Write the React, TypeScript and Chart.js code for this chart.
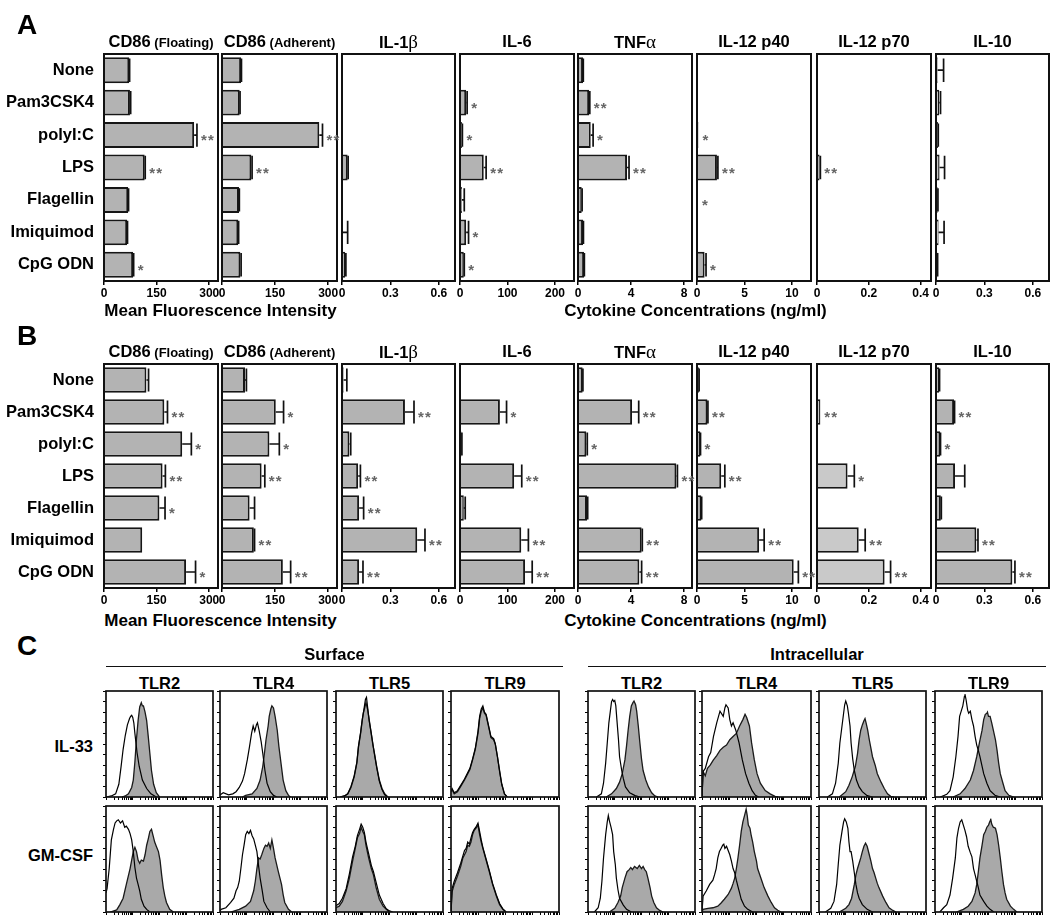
import React, { useEffect, useRef } from 'react';
import { Chart, registerables } from 'chart.js';

Chart.register(...registerables);

const FONT = "'Liberation Sans', Arial, Helvetica, sans-serif";
const SERIF = "'Liberation Serif', 'DejaVu Serif', serif";

// ---------------- Panel A / B data ----------------
const CATEGORIES = ['None', 'Pam3CSK4', 'polyI:C', 'LPS', 'Flagellin', 'Imiquimod', 'CpG ODN'];
const PANEL_TITLES = ['CD86 (Floating)', 'CD86 (Adherent)', 'IL-1β', 'IL-6', 'TNFα', 'IL-12 p40', 'IL-12 p70', 'IL-10'];
const AXIS_TITLES = ['Mean Fluorescence Intensity', 'Cytokine Concentrations (ng/ml)'];

const TICKS_CD86 = [0, 150, 300];
const TICKS_IL1B = [0, 0.3, 0.6];
const TICKS_IL6 = [0, 100, 200];
const TICKS_TNF = [0, 4, 8];
const TICKS_P40 = [0, 5, 10];
const TICKS_P70 = [0, 0.2, 0.4];
const TICKS_IL10 = [0, 0.3, 0.6];
const AXIS_MAX = [325, 325, 0.7, 240, 8.6, 12, 0.44, 0.7];

// Panel A (IL-33 cultured)
const A_CD86F = [72, 74, 257, 116, 69, 66, 83];
const A_CD86F_ERR = [1, 2, 8, 1.5, 1, 1, 1.5];
const A_CD86F_SIG = ['', '', '**', '**', '', '', '*'];
const A_CD86A = [54, 50, 275, 83, 48, 46, 52];
const A_CD86A_ERR = [1, 1, 9, 2, 1, 1, 2];
const A_CD86A_SIG = ['', '', '**', '**', '', '', ''];
const A_IL1B = [0, 0, 0, 0.035, 0, 0.005, 0.02];
const A_IL1B_ERR = [0, 0, 0, 0.003, 0, 0.03, 0.004];
const A_IL1B_SIG = ['', '', '', '', '', '', ''];
const A_IL6 = [0, 13, 4, 50, 4, 13, 8];
const A_IL6_ERR = [0, 2, 1, 5, 5, 5, 1];
const A_IL6_SIG = ['', '*', '*', '**', '', '*', '*'];
const A_TNF = [0.38, 0.84, 0.96, 3.7, 0.28, 0.38, 0.46];
const A_TNF_ERR = [0.02, 0.05, 0.18, 0.15, 0.03, 0.03, 0.02];
const A_TNF_SIG = ['', '**', '*', '**', '', '', ''];
const A_P40 = [0, 0, 0.15, 2.1, 0.1, 0, 0.8];
const A_P40_ERR = [0, 0, 0, 0.1, 0, 0, 0.15];
const A_P40_SIG = ['', '', '*', '**', '*', '', '*'];
const A_P70 = [0, 0, 0, 0.01, 0, 0, 0];
const A_P70_ERR = [0, 0, 0, 0.003, 0, 0, 0];
const A_P70_SIG = ['', '', '', '**', '', '', ''];
const A_IL10 = [0.01, 0.02, 0.012, 0.022, 0.01, 0.016, 0.008];
const A_IL10_ERR = [0.037, 0.008, 0.002, 0.031, 0.002, 0.034, 0.002];
const A_IL10_SIG = ['', '', '', '', '', '', ''];

// Panel B (GM-CSF cultured)
const B_CD86F = [121, 172, 223, 167, 158, 109, 234];
const B_CD86F_ERR = [6, 9, 26, 8, 16, 0, 27];
const B_CD86F_SIG = ['', '**', '*', '**', '*', '', '*'];
const B_CD86A = [65, 152, 134, 112, 78, 90, 172];
const B_CD86A_ERR = [4, 22, 28, 9, 14, 2, 22];
const B_CD86A_SIG = ['', '*', '*', '**', '', '**', '**'];
const B_IL1B = [0.01, 0.39, 0.046, 0.1, 0.106, 0.466, 0.106];
const B_IL1B_ERR = [0.02, 0.056, 0.008, 0.014, 0.028, 0.048, 0.024];
const B_IL1B_SIG = ['', '**', '', '**', '**', '**', '**'];
const B_IL6 = [0, 84, 3, 114, 8, 129, 137];
const B_IL6_ERR = [0, 14, 1, 16, 3, 15, 15];
const B_IL6_SIG = ['', '*', '', '**', '', '**', '**'];
const B_TNF = [0.35, 4.08, 0.63, 7.42, 0.68, 4.8, 4.63];
const B_TNF_ERR = [0.02, 0.5, 0.07, 0.08, 0.05, 0.05, 0.17];
const B_TNF_SIG = ['', '**', '*', '**', '', '**', '**'];
const B_P40 = [0.2, 1.1, 0.35, 2.55, 0.46, 6.54, 10.18];
const B_P40_ERR = [0.02, 0.05, 0.02, 0.38, 0.03, 0.53, 0.49];
const B_P40_SIG = ['', '**', '*', '**', '', '**', '**'];
const B_P70 = [0, 0.013, 0, 0.118, 0, 0.161, 0.261];
const B_P70_ERR = [0, 0, 0, 0.026, 0, 0.025, 0.023];
const B_P70_SIG = ['', '**', '', '*', '', '**', '**'];
const B_IL10 = [0.02, 0.112, 0.026, 0.118, 0.03, 0.25, 0.473];
const B_IL10_ERR = [0.002, 0.003, 0.002, 0.06, 0.003, 0.01, 0.016];
const B_IL10_SIG = ['', '**', '*', '', '', '**', '**'];

// ---------------- Panel C data (histograms, % of channel range / % of max count) ----------------
const HIST_GROUPS = ['Surface', 'Intracellular'];
const HIST_MARKERS = ['TLR2', 'TLR4', 'TLR5', 'TLR9'];
const HIST_ROWS = ['IL-33', 'GM-CSF'];
const HIST_Y_TICKS = [0, 10, 20, 30, 40, 50, 60, 70, 80, 90, 100];

// Surface, IL-33
const S2_IL33_ISO_X = [0, 5, 9, 12, 14, 16, 18, 20, 22, 23, 24, 25, 26, 27, 29, 31, 34, 38, 42, 47];
const S2_IL33_ISO_Y = [0, 1, 3, 12, 28, 45, 58, 68, 74, 76, 77, 75, 70, 60, 42, 29, 16, 8, 3, 0];
const S2_IL33_ST_X = [15, 18, 21, 24, 25.5, 27, 28.5, 30, 31.5, 33, 34, 35, 36.5, 38, 39.5, 41, 42.5, 44.5, 47, 50];
const S2_IL33_ST_Y = [0, 1, 3, 9, 16, 33, 55, 72, 85, 89, 86, 86, 80, 72, 57, 41, 25, 12, 4, 0];
const S4_IL33_ISO_X = [0, 3, 8, 12, 15, 18, 21, 23, 25.5, 27.5, 29.5, 31, 32.5, 34, 35, 36.5, 38.5, 40, 42, 44, 47, 50, 53];
const S4_IL33_ISO_Y = [2, 4, 2, 3, 5, 9, 15, 22, 35, 47, 60, 67, 62, 68, 70, 63, 52, 41, 25, 13, 5, 1.5, 0];
const S4_IL33_ST_X = [21, 24, 30, 34.5, 37.5, 40, 41.5, 43, 45, 46, 47.5, 48.5, 50, 51.5, 53.5, 55, 57, 59, 61.5, 64, 66];
const S4_IL33_ST_Y = [0, 1.5, 3, 8, 16, 29, 41, 54, 67, 76, 83, 86, 84, 76, 63, 48, 32, 16, 6, 1.5, 0];
const S5_IL33_ISO_X = [4, 8, 11, 14, 17, 19.5, 21, 23, 24.5, 26, 27.5, 28.5, 29.5, 31, 33, 34.5, 36, 38, 40.5, 43, 45.5, 48.5];
const S5_IL33_ISO_Y = [0, 1, 3, 10, 20, 33, 48, 61, 73, 82, 92, 94, 85, 72, 60, 50, 40, 28, 15, 7, 2, 0];
const S5_IL33_ST_X = [4, 8, 11, 14, 17, 19.5, 21, 23, 24.5, 25.5, 27, 28, 29.5, 31, 33, 34.5, 36, 38, 40.5, 43, 45.5, 48.5];
const S5_IL33_ST_Y = [0, 1, 3, 9, 19, 32, 47, 60, 72, 79, 85, 89, 83, 73, 59, 49, 41, 29, 16, 8, 3, 0];
const S9_IL33_ISO_X = [0, 1, 3, 6, 9, 12.5, 15.5, 17.5, 20, 22.5, 25, 26.5, 28, 29.5, 31, 32.5, 34, 35.5, 37, 39.5, 41, 43, 45, 47, 49.5, 52];
const S9_IL33_ISO_Y = [6, 8, 4, 6, 11, 17, 23, 27, 36, 46, 62, 76, 83, 86, 80, 78, 71, 64, 57, 55, 50, 38, 24, 12, 3, 0];
const S9_IL33_ST_X = [0, 1, 3, 6, 9, 12.5, 15.5, 17.5, 20, 22.5, 25, 26.5, 28, 29.5, 31, 32.5, 34, 35.5, 37, 39.5, 41, 43, 45, 47, 49.5, 52];
const S9_IL33_ST_Y = [5, 7, 3, 5, 10, 16, 22, 26, 35, 45, 60, 74, 81, 84, 79, 77, 70, 63, 56, 54, 50, 38, 25, 12, 3, 0];

// Surface, GM-CSF
const S2_GM_ISO_X = [0, 1, 3, 5, 7, 8.5, 10, 11.5, 13.5, 15.5, 17.5, 19, 21, 22.5, 24, 25.5, 27, 28.5, 30, 31.5, 33, 35.5, 38, 41];
const S2_GM_ISO_Y = [18, 22, 41, 68, 78, 84, 86, 87, 84, 86, 80, 81, 78, 74, 68, 57, 42, 32, 26, 20, 12, 5.5, 2.5, 0];
const S2_GM_ST_X = [4, 10, 13, 16, 19, 22.5, 24, 25.5, 27, 28.5, 30, 31.5, 33, 35, 36.5, 38, 39.5, 41, 42.5, 44, 45.5, 47, 49, 50.5, 52, 53.5, 55, 56.5, 59.5, 63];
const S2_GM_ST_Y = [0, 2, 7, 13, 26, 41, 49, 57, 61, 57, 49, 46, 49, 48, 54, 63, 69, 76, 78, 72, 66, 62, 57, 49, 35, 23, 15, 9, 2.5, 0];
const S4_GM_ISO_X = [0, 1, 5.5, 10, 13, 15, 16.5, 18, 19.5, 21, 22.5, 24, 25.5, 27, 28.5, 30, 31.5, 33, 34.5, 36, 37.5, 39.5, 41, 44, 47];
const S4_GM_ISO_Y = [1, 2.5, 4, 9, 13, 20, 23, 29, 41, 54, 63, 73, 76, 74, 77, 72, 69, 63, 57, 44, 32, 20, 10, 4, 0];
const S4_GM_ST_X = [10, 18, 24, 28.5, 31.5, 33, 34.5, 36, 37.5, 39, 41, 42.5, 44, 45.5, 47, 48.5, 50, 51.5, 54.5, 57.5, 59, 60.5, 64, 67];
const S4_GM_ST_Y = [0, 2.5, 5.5, 10, 20, 29, 41, 51, 50, 54, 60, 63, 62, 65, 60, 68, 60, 51, 38, 26, 16.5, 9, 2.5, 0];
const S5_GM_ISO_X = [0, 3, 6, 9.5, 12.5, 15.5, 18, 20, 22, 23.5, 25, 26.5, 28, 30.5, 33, 35, 37.5, 40.5, 44, 47, 50, 53];
const S5_GM_ISO_Y = [6, 8, 13, 22, 36, 52, 62, 72, 78, 83, 80, 75, 66, 55, 44, 38, 28, 16, 8, 3, 1, 0];
const S5_GM_ST_X = [0, 3, 6, 9.5, 12.5, 15.5, 18, 20, 22, 23.5, 25, 26.5, 28, 30.5, 33, 35, 37.5, 40.5, 44, 47, 50];
const S5_GM_ST_Y = [4, 5.5, 10, 20, 32, 48, 60, 70, 74, 80, 76, 73, 63, 51, 41, 35, 23, 12, 5.5, 2.5, 0];
const S9_GM_ISO_X = [0, 1, 3, 6, 9, 11, 12.5, 14, 15.5, 17, 18.5, 20, 21.5, 23, 25, 26.5, 28, 29.5, 32.5, 35.5, 38.5, 42, 45, 48, 51];
const S9_GM_ISO_Y = [0, 22, 29, 37, 46, 53, 58, 60, 66, 64, 70, 75, 78, 80, 84, 76, 68, 61, 50, 39, 27, 16, 8, 3, 0];
const S9_GM_ST_X = [0, 1, 3, 6, 9, 11, 12.5, 14, 15.5, 17, 18.5, 20, 21.5, 23, 25, 26.5, 28, 29.5, 32.5, 35.5, 38.5, 42, 45, 48, 51];
const S9_GM_ST_Y = [0, 19, 26, 34, 43, 51, 54, 57, 63, 62, 66, 73, 77, 79, 82, 73, 66, 60, 49, 38, 26, 15, 7, 2.5, 0];

// Intracellular, IL-33
const I2_IL33_ISO_X = [8, 12.5, 14.5, 16.5, 18, 19.5, 21, 22, 23, 24, 25, 26, 27, 28.5, 29.5, 31.5, 33, 35, 39, 44, 48.5];
const I2_IL33_ISO_Y = [0, 3, 13, 32, 51, 70, 82, 90, 92, 90, 91, 86, 73, 54, 38, 25, 17.5, 9.5, 4, 1.3, 0];
const I2_IL33_ST_X = [17, 22, 26.5, 29.5, 32, 34.5, 36, 37.5, 39, 40.5, 42, 43, 44.5, 45.5, 47, 48.5, 50, 51.5, 54, 56.5, 59.5, 62.5, 65.5];
const I2_IL33_ST_Y = [0, 3, 8, 14, 22, 35, 48, 63, 76, 86, 89, 90.5, 87, 81, 67, 51, 36, 25, 16, 9.5, 4, 1, 0];
const I4_IL33_ISO_X = [0, 1, 3, 6, 8, 10.5, 13.5, 16.5, 19.5, 21, 22, 24, 25.5, 27, 28.5, 31, 34, 37, 40, 43, 46, 49, 52];
const I4_IL33_ISO_Y = [0, 24, 27, 38, 42, 57, 70, 81, 76, 84, 87, 84, 73, 67, 70, 63, 51, 35, 22, 13, 6, 1.6, 0];
const I4_IL33_ST_X = [0, 1, 3, 5, 7.5, 10.5, 13.5, 16.5, 19.5, 22.5, 25.5, 28.5, 31.5, 34.5, 37.5, 39.5, 41, 43.5, 45.5, 48, 50.5, 53.5, 58, 62.5, 67, 70];
const I4_IL33_ST_Y = [0, 24, 20, 27, 30, 35, 39, 44, 47, 49, 54, 57, 60, 67, 73, 78, 75, 67, 51, 35, 22, 13, 6, 3, 0.6, 0];
const I5_IL33_ISO_X = [8, 12.5, 15.5, 18, 19.5, 21.5, 23, 24, 25, 26.5, 27.5, 29, 30, 31.5, 33, 35, 37.5, 40.5, 45, 50];
const I5_IL33_ISO_Y = [0, 3, 13, 32, 51, 67, 79, 87, 90.5, 86, 79, 67, 51, 36, 25, 16, 9.5, 5, 1.3, 0];
const I5_IL33_ST_X = [19, 25, 28, 31, 34, 36, 37.5, 39, 40.5, 42, 43, 44, 45.5, 47, 48.5, 50, 52.5, 54.5, 58, 61, 64, 67, 70];
const I5_IL33_ST_Y = [0, 5, 11, 19, 29, 41, 54, 63, 68, 72, 74, 70, 63, 54, 46, 38, 30, 22, 14, 8, 3, 0.6, 0];
const I9_IL33_ISO_X = [5, 11, 14, 17, 19.5, 21.5, 23, 24.5, 26, 27.5, 28, 29, 30.5, 31.5, 33, 34.5, 36, 37.5, 39, 40.5, 42, 44, 45.5, 48.5, 51.5, 56, 61];
const I9_IL33_ISO_Y = [0, 2.5, 6, 19, 38, 57, 76, 81, 86, 95, 97, 92, 82, 79, 81, 73, 67, 57, 49, 44, 38, 29, 22, 13, 6, 1.6, 0];
const I9_IL33_ST_X = [17, 23.5, 28, 33, 36, 39, 41.5, 44, 45.5, 47, 48.5, 49, 50, 51.5, 53, 54.5, 56.5, 58, 59.5, 61, 63.5, 65.5, 69, 73.5];
const I9_IL33_ST_Y = [0, 3, 8, 16, 25, 38, 51, 63, 73, 78, 79, 80, 76, 76, 70, 63, 54, 44, 32, 22, 13, 6, 1.6, 0];

// Intracellular, GM-CSF
const I2_GM_ISO_X = [6, 9.5, 11.5, 13, 14.5, 16.5, 18, 19, 20, 21.5, 23, 24, 25.5, 26.5, 28, 29.5, 33, 36, 40.5];
const I2_GM_ISO_Y = [0, 4, 13, 29, 51, 73, 85, 91, 86, 80, 73, 57, 45, 32, 21, 13, 6.5, 2.5, 0];
const I2_GM_ST_X = [20, 25, 28, 30.5, 32, 34.5, 36.5, 38.5, 40, 41.5, 43.5, 46, 48, 50, 51.5, 53, 54.5, 56, 58, 59.5, 61.5, 64, 67, 70];
const I2_GM_ST_Y = [0, 3.5, 9, 15, 23, 32, 38, 40, 42, 40, 43, 41, 44, 41, 43, 40, 38, 32, 23, 15, 9, 4, 1.5, 0];
const I4_GM_ISO_X = [0, 1, 4, 7, 10, 11.5, 13, 14.5, 16, 17.5, 19, 20, 21, 22.5, 24, 25.5, 27, 28.5, 30, 31.5, 33, 34.5, 36, 39, 42, 46.5];
const I4_GM_ISO_Y = [0, 15, 20, 26, 30, 35, 41, 51, 57, 60, 63, 64, 60, 62, 58, 54, 48, 41, 37, 30, 24, 18, 12, 5.5, 2.5, 0];
const I4_GM_ST_X = [0, 1, 5.5, 10, 14.5, 17.5, 20.5, 24, 27, 28.5, 30, 31.5, 33, 34.5, 36, 37.5, 39, 40.5, 41.5, 42.5, 44, 45, 46.5, 48, 50, 51, 54, 57, 60.5, 63.5, 66.5, 69.5, 72.5];
const I4_GM_ST_Y = [0, 2.5, 3.5, 4, 5.5, 8.5, 12, 16.5, 22.5, 27, 32, 41, 51, 63, 76, 85, 91, 97, 91, 82, 79, 73, 66, 57, 48, 41, 32, 23, 15, 9, 4, 1.6, 0];
const I5_GM_ISO_X = [6, 11, 14, 16.5, 18, 19.5, 21.5, 23, 24, 25.5, 27, 28, 29, 30, 31.5, 33, 34.5, 36, 37.5, 40.5, 45, 50];
const I5_GM_ISO_Y = [0, 3.5, 10, 26, 45, 63, 76, 85, 88, 85, 79, 66, 57, 57, 48, 37, 26, 18, 13, 7, 2.5, 0];
const I5_GM_ST_X = [19, 25, 28, 30.5, 33, 34.5, 36, 37.5, 39, 40.5, 42, 43.5, 45, 47, 48.5, 50, 51.5, 53, 54.5, 56, 59.5, 62.5, 65.5, 69, 72];
const I5_GM_ST_Y = [0, 3.5, 7, 13, 26, 35, 41, 46, 51, 57, 62, 65, 62, 54, 48, 41, 37, 32, 27, 23, 15, 9, 4, 1.5, 0];
const I9_GM_ISO_X = [4.5, 8, 11, 14, 16.5, 19, 20.5, 22, 23.5, 25, 26.5, 28, 29.5, 31, 33, 34.5, 36, 37.5, 39, 40.5, 42, 45.5, 48.5, 51.5, 55];
const I9_GM_ISO_Y = [0, 4, 7, 16, 32, 51, 70, 79, 85, 87, 82, 77, 71, 62, 56, 52, 41, 35, 29, 23, 16, 10, 5.5, 2.5, 0];
const I9_GM_ST_X = [20, 26.5, 31, 34.5, 37.5, 39, 40.5, 42, 44, 45.5, 47, 48.5, 50, 51.5, 52, 53, 54.5, 56.5, 58, 59.5, 61, 62.5, 64, 65.5, 67, 70.5, 73.5, 76.5];
const I9_GM_ST_Y = [0, 2.5, 5.5, 10, 18, 26, 38, 51, 63, 73, 76, 80, 82, 86, 88, 83, 80, 79, 73, 63, 51, 38, 26, 18, 12, 5.5, 2.5, 0];

// ---------------- Layout (positions / sizes / styles) ----------------
const BAR_LEFT = [104, 222, 342, 460, 578, 697, 817, 936];
const BAR_RIGHT = [218, 337, 455, 574, 692, 811, 931, 1049];
const PANEL_TOP = [54, 364];
const PANEL_BOTTOM = [281, 588];
const TITLE_Y = [41, 351];
const AXTITLE_Y = [310, 620];
const LETTER_Y = [25, 336, 646];
const BAR_PAD_R = 26;
const BAR_PAD_T = 24;
const BAR_FILL = '#b3b3b3';
const BAR_FILL_LIGHT = '#c9c9c9';
const HIST_FILL = '#a9a9a9';
const HIST_LEFT = [[106, 220, 336, 451], [588, 702, 819, 935]];
const HIST_W = [[107, 107, 107, 108], [107, 109, 107, 107]];
const HIST_TOP = [691, 806];
const HIST_H = 106;

const LOG_TICKS: number[] = [];
for (let d = 0; d < 4; d++) for (let k = 1; k < 10; k++) LOG_TICKS.push(25 * (d + Math.log10(k)));
LOG_TICKS.push(100);

const framePlugin = {
  id: 'frame',
  afterDatasetsDraw(chart: any, _a: any, opts: any) {
    const { ctx, chartArea: a } = chart;
    ctx.save();
    ctx.strokeStyle = '#111';
    ctx.lineWidth = opts.lw || 2;
    ctx.strokeRect(a.left, a.top, a.right - a.left, a.bottom - a.top);
    ctx.restore();
  },
};

const errPlugin = {
  id: 'errs',
  afterDatasetsDraw(chart: any, _a: any, opts: any) {
    if (!opts || !opts.err) return;
    const meta = chart.getDatasetMeta(0);
    const xs = chart.scales.x;
    const ctx = chart.ctx;
    const vals = chart.data.datasets[0].data;
    ctx.save();
    meta.data.forEach((bar: any, i: number) => {
      const v = vals[i];
      const e = opts.err[i] || 0;
      const s = opts.sig[i] || '';
      const x0 = xs.getPixelForValue(v);
      const x1 = xs.getPixelForValue(v + e);
      const y = bar.y;
      const h = bar.height;
      if (e > 0) {
        ctx.strokeStyle = '#111';
        ctx.lineWidth = 1.7;
        ctx.beginPath();
        ctx.moveTo(x0, y);
        ctx.lineTo(x1, y);
        ctx.moveTo(x1, y - h * 0.45);
        ctx.lineTo(x1, y + h * 0.45);
        ctx.stroke();
      }
      if (s) {
        ctx.fillStyle = '#666';
        ctx.font = `bold 15px ${FONT}`;
        ctx.textAlign = 'left';
        ctx.textBaseline = 'alphabetic';
        for (let k = 0; k < s.length; k++) ctx.fillText('*', x1 + 4 + k * 7, y + 10);
      }
    });
    ctx.restore();
  },
};

function barConfig(values: number[], errs: number[], sigs: string[], ticks: number[], max: number, color: string, first: boolean, padLeft: number) {
  return {
    type: 'bar',
    data: {
      labels: CATEGORIES,
      datasets: [{
        data: values, backgroundColor: color, borderColor: '#161616', borderWidth: 2,
        borderSkipped: 'start', barPercentage: 0.8, categoryPercentage: 1,
      }],
    },
    options: {
      indexAxis: 'y', animation: false, responsive: false, events: [],
      layout: { padding: { left: padLeft, right: BAR_PAD_R, top: BAR_PAD_T, bottom: 0 } },
      plugins: { legend: { display: false }, tooltip: { enabled: false }, frame: { lw: 2 }, errs: { err: errs, sig: sigs } },
      scales: {
        x: {
          type: 'linear', min: 0, max,
          afterBuildTicks: (s: any) => { s.ticks = ticks.map((v) => ({ value: v })); },
          afterFit: (s: any) => { s.height = 20; },
          grid: { drawOnChartArea: false, drawTicks: true, tickLength: 4, color: '#000', lineWidth: 1.5 },
          border: { display: false },
          ticks: { color: '#000', font: { family: FONT, size: 12, weight: 'bold' }, padding: 1, maxRotation: 0, autoSkip: false, callback: (v: any) => String(v) },
        },
        y: {
          type: 'category', display: first,
          grid: { display: false, drawTicks: false },
          border: { display: false },
          afterFit: (s: any) => { if (first) s.width = BAR_LEFT[0]; },
          ticks: { color: '#000', font: { family: FONT, size: 16.5, weight: 'bold' }, padding: 10 },
        },
      },
    },
    plugins: [framePlugin, errPlugin],
  };
}

function histConfig(isoX: number[], isoY: number[], stX: number[], stY: number[]) {
  return {
    type: 'line',
    data: {
      datasets: [
        { data: isoX.map((x, i) => ({ x, y: isoY[i] })), borderColor: '#000', borderWidth: 1.2, pointRadius: 0, fill: false, tension: 0 },
        { data: stX.map((x, i) => ({ x, y: stY[i] })), borderColor: '#1a1a1a', borderWidth: 1.3, backgroundColor: HIST_FILL, fill: 'origin', pointRadius: 0, tension: 0 },
      ],
    },
    options: {
      animation: false, responsive: false, events: [],
      layout: { padding: { left: 5, right: 3, top: 3, bottom: 0 } },
      plugins: { legend: { display: false }, tooltip: { enabled: false }, frame: { lw: 1.7 } },
      scales: {
        x: {
          type: 'linear', min: 0, max: 100,
          afterBuildTicks: (s: any) => { s.ticks = LOG_TICKS.map((v) => ({ value: v })); },
          afterFit: (s: any) => { s.height = 5; },
          ticks: { display: false },
          grid: { drawOnChartArea: false, tickLength: 3, color: '#000', lineWidth: 1 },
          border: { display: false },
        },
        y: {
          type: 'linear', min: 0, max: 100,
          afterBuildTicks: (s: any) => { s.ticks = HIST_Y_TICKS.map((v) => ({ value: v })); },
          afterFit: (s: any) => { s.width = 3; },
          ticks: { display: false },
          grid: { drawOnChartArea: false, tickLength: 3, color: '#000', lineWidth: 1 },
          border: { display: false },
        },
      },
    },
    plugins: [framePlugin],
  };
}

type CBProps = { left: number; top: number; width: number; height: number; make: () => any };
function ChartBox({ left, top, width, height, make }: CBProps) {
  const ref = useRef<HTMLCanvasElement>(null);
  useEffect(() => {
    const chart = new Chart(ref.current as HTMLCanvasElement, make());
    return () => chart.destroy();
  }, []);
  return <canvas ref={ref} width={width} height={height} style={{ position: 'absolute', left, top, width, height }} />;
}

type TxtProps = { x: number; y: number; align?: 'left' | 'center' | 'right'; size?: number; children: any };
function Txt({ x, y, align = 'center', size = 16.5, children }: TxtProps) {
  const tx = align === 'center' ? '-50%' : align === 'right' ? '-100%' : '0';
  return (
    <div style={{
      position: 'absolute', left: x, top: y, transform: `translate(${tx}, -50%)`,
      fontFamily: FONT, fontWeight: 700, fontSize: size, lineHeight: 1, whiteSpace: 'nowrap', color: '#000',
    }}>{children}</div>
  );
}

function Title({ text }: { text: string }) {
  if (text.startsWith('CD86')) {
    const parts = text.split(' ');
    return <><span>{parts[0]}</span><span style={{ fontSize: 13 }}> {parts.slice(1).join(' ')}</span></>;
  }
  const last = text.slice(-1);
  if (last === 'β' || last === 'α') {
    return <>{text.slice(0, -1)}<span style={{ fontFamily: SERIF, fontWeight: 400, fontSize: 19 }}>{last}</span></>;
  }
  return <>{text}</>;
}

const PANEL_DATA = [
  [
    [A_CD86F, A_CD86F_ERR, A_CD86F_SIG], [A_CD86A, A_CD86A_ERR, A_CD86A_SIG], [A_IL1B, A_IL1B_ERR, A_IL1B_SIG],
    [A_IL6, A_IL6_ERR, A_IL6_SIG], [A_TNF, A_TNF_ERR, A_TNF_SIG], [A_P40, A_P40_ERR, A_P40_SIG],
    [A_P70, A_P70_ERR, A_P70_SIG], [A_IL10, A_IL10_ERR, A_IL10_SIG],
  ],
  [
    [B_CD86F, B_CD86F_ERR, B_CD86F_SIG], [B_CD86A, B_CD86A_ERR, B_CD86A_SIG], [B_IL1B, B_IL1B_ERR, B_IL1B_SIG],
    [B_IL6, B_IL6_ERR, B_IL6_SIG], [B_TNF, B_TNF_ERR, B_TNF_SIG], [B_P40, B_P40_ERR, B_P40_SIG],
    [B_P70, B_P70_ERR, B_P70_SIG], [B_IL10, B_IL10_ERR, B_IL10_SIG],
  ],
];
const PANEL_TICKS = [TICKS_CD86, TICKS_CD86, TICKS_IL1B, TICKS_IL6, TICKS_TNF, TICKS_P40, TICKS_P70, TICKS_IL10];

// [row][group][marker] -> [isoX, isoY, stainX, stainY]
const HIST_DATA = [
  [
    [[S2_IL33_ISO_X, S2_IL33_ISO_Y, S2_IL33_ST_X, S2_IL33_ST_Y], [S4_IL33_ISO_X, S4_IL33_ISO_Y, S4_IL33_ST_X, S4_IL33_ST_Y],
     [S5_IL33_ISO_X, S5_IL33_ISO_Y, S5_IL33_ST_X, S5_IL33_ST_Y], [S9_IL33_ISO_X, S9_IL33_ISO_Y, S9_IL33_ST_X, S9_IL33_ST_Y]],
    [[I2_IL33_ISO_X, I2_IL33_ISO_Y, I2_IL33_ST_X, I2_IL33_ST_Y], [I4_IL33_ISO_X, I4_IL33_ISO_Y, I4_IL33_ST_X, I4_IL33_ST_Y],
     [I5_IL33_ISO_X, I5_IL33_ISO_Y, I5_IL33_ST_X, I5_IL33_ST_Y], [I9_IL33_ISO_X, I9_IL33_ISO_Y, I9_IL33_ST_X, I9_IL33_ST_Y]],
  ],
  [
    [[S2_GM_ISO_X, S2_GM_ISO_Y, S2_GM_ST_X, S2_GM_ST_Y], [S4_GM_ISO_X, S4_GM_ISO_Y, S4_GM_ST_X, S4_GM_ST_Y],
     [S5_GM_ISO_X, S5_GM_ISO_Y, S5_GM_ST_X, S5_GM_ST_Y], [S9_GM_ISO_X, S9_GM_ISO_Y, S9_GM_ST_X, S9_GM_ST_Y]],
    [[I2_GM_ISO_X, I2_GM_ISO_Y, I2_GM_ST_X, I2_GM_ST_Y], [I4_GM_ISO_X, I4_GM_ISO_Y, I4_GM_ST_X, I4_GM_ST_Y],
     [I5_GM_ISO_X, I5_GM_ISO_Y, I5_GM_ST_X, I5_GM_ST_Y], [I9_GM_ISO_X, I9_GM_ISO_Y, I9_GM_ST_X, I9_GM_ST_Y]],
  ],
];

export default function App() {
  const items: any[] = [];

  // Panels A and B
  [0, 1].forEach((p) => {
    const top = PANEL_TOP[p];
    const boxH = PANEL_BOTTOM[p] - top;
    for (let i = 0; i < 8; i++) {
      const first = i === 0;
      const boxL = BAR_LEFT[i];
      const boxW = BAR_RIGHT[i] - boxL;
      const padL = first ? 0 : 14;
      const canvasL = first ? 0 : boxL - padL;
      const width = boxL - canvasL + boxW + BAR_PAD_R;
      const height = BAR_PAD_T + boxH + 20;
      const [vals, errs, sigs] = PANEL_DATA[p][i] as any;
      const color = (p === 1 && i === 6) || (p === 0 && i === 7) ? BAR_FILL_LIGHT : BAR_FILL;
      items.push(
        <ChartBox key={`bar-${p}-${i}`} left={canvasL} top={top - BAR_PAD_T} width={width} height={height}
          make={() => barConfig(vals, errs, sigs, PANEL_TICKS[i], AXIS_MAX[i], color, first, padL)} />,
      );
      items.push(
        <Txt key={`title-${p}-${i}`} x={(boxL + BAR_RIGHT[i]) / 2} y={TITLE_Y[p]}><Title text={PANEL_TITLES[i]} /></Txt>,
      );
    }
    items.push(<Txt key={`ax1-${p}`} x={(BAR_LEFT[0] + BAR_RIGHT[1]) / 2} y={AXTITLE_Y[p]} size={17}>{AXIS_TITLES[0]}</Txt>);
    items.push(<Txt key={`ax2-${p}`} x={(BAR_LEFT[2] + BAR_RIGHT[7]) / 2} y={AXTITLE_Y[p]} size={17}>{AXIS_TITLES[1]}</Txt>);
  });

  // Panel C
  [0, 1].forEach((g) => {
    const l = HIST_LEFT[g][0];
    const r = HIST_LEFT[g][3] + HIST_W[g][3] + 4;
    items.push(<Txt key={`grp-${g}`} x={(l + r) / 2} y={654}>{HIST_GROUPS[g]}</Txt>);
    items.push(<div key={`grpline-${g}`} style={{ position: 'absolute', left: l, top: 666, width: r - l, height: 0, borderTop: '1.5px solid #111' }} />);
    for (let m = 0; m < 4; m++) {
      const bl = HIST_LEFT[g][m];
      const bw = HIST_W[g][m];
      items.push(<Txt key={`mk-${g}-${m}`} x={bl + bw / 2} y={683}>{HIST_MARKERS[m]}</Txt>);
      for (let row = 0; row < 2; row++) {
        const [ix, iy, sx, sy] = HIST_DATA[row][g][m] as any;
        items.push(
          <ChartBox key={`h-${row}-${g}-${m}`} left={bl - 8} top={HIST_TOP[row] - 3} width={bw + 11} height={HIST_H + 8}
            make={() => histConfig(ix, iy, sx, sy)} />,
        );
      }
    }
  });
  items.push(<Txt key="row0" x={93} y={746} align="right">{HIST_ROWS[0]}</Txt>);
  items.push(<Txt key="row1" x={93} y={855} align="right">{HIST_ROWS[1]}</Txt>);

  // Panel letters
  items.push(<Txt key="LA" x={17} y={LETTER_Y[0]} align="left" size={28}>A</Txt>);
  items.push(<Txt key="LB" x={17} y={LETTER_Y[1]} align="left" size={28}>B</Txt>);
  items.push(<Txt key="LC" x={17} y={LETTER_Y[2]} align="left" size={28}>C</Txt>);

  return (
    <div style={{ position: 'absolute', left: 0, top: 0, width: 1050, height: 916, background: '#fff', overflow: 'hidden' }}>
      {items}
    </div>
  );
}
